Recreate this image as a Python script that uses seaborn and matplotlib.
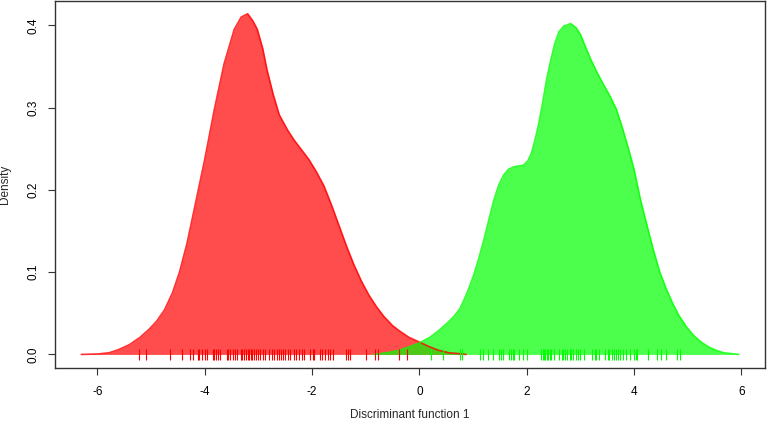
import pandas as pd
import matplotlib.pyplot as plt
import seaborn as sns

# Densidad estimada de cada grupo
red_x = [-6.30, -6.0, -5.78, -5.6, -5.4, -5.2, -5.03, -4.9, -4.75, -4.6, -4.47, -4.33,
         -4.2, -4.0, -3.82, -3.64, -3.45, -3.32, -3.2, -3.1, -3.02, -2.92, -2.84, -2.72,
         -2.61, -2.45, -2.34, -2.2, -2.06, -1.92, -1.78, -1.64, -1.5, -1.36, -1.22, -1.08,
         -0.94, -0.8, -0.66, -0.5, -0.38, -0.2, 0.0, 0.2, 0.36, 0.55, 0.73, 0.87]
red_y = [0.000, 0.0005, 0.002, 0.006, 0.012, 0.021, 0.031, 0.040, 0.054, 0.075, 0.100, 0.135,
         0.175, 0.237, 0.298, 0.353, 0.395, 0.410, 0.414, 0.405, 0.395, 0.372, 0.346, 0.315,
         0.291, 0.272, 0.261, 0.249, 0.237, 0.222, 0.205, 0.182, 0.157, 0.132, 0.109, 0.089,
         0.072, 0.058, 0.046, 0.035, 0.029, 0.021, 0.015, 0.009, 0.005, 0.002, 0.001, 0.000]

green_x = [-0.85, -0.6, -0.38, -0.2, 0.0, 0.2, 0.36, 0.5, 0.64, 0.75, 0.83, 0.92, 1.01, 1.1,
           1.2, 1.3, 1.39, 1.48, 1.57, 1.66, 1.76, 1.85, 1.94, 2.02, 2.09, 2.16, 2.22, 2.30,
           2.37, 2.45, 2.52, 2.60, 2.69, 2.82, 2.92, 3.0, 3.1, 3.19, 3.3, 3.43, 3.55, 3.67,
           3.78, 3.9, 4.0, 4.12, 4.24, 4.36, 4.48, 4.61, 4.72, 4.83, 4.97, 5.11, 5.25, 5.39,
           5.53, 5.67, 5.81, 5.95]
green_y = [0.000, 0.002, 0.005, 0.009, 0.014, 0.021, 0.029, 0.037, 0.046, 0.055, 0.066, 0.080,
           0.096, 0.115, 0.139, 0.165, 0.188, 0.206, 0.218, 0.225, 0.228, 0.229, 0.230, 0.235,
           0.245, 0.262, 0.279, 0.307, 0.334, 0.358, 0.377, 0.392, 0.399, 0.402, 0.397, 0.389,
           0.373, 0.359, 0.344, 0.328, 0.314, 0.298, 0.276, 0.249, 0.225, 0.188, 0.157, 0.127,
           0.100, 0.078, 0.062, 0.048, 0.034, 0.023, 0.015, 0.009, 0.005, 0.002, 0.001, 0.000]

# Observaciones individuales (rug)
red_rug = [-5.23, -5.09, -4.64, -4.43, -4.28, -4.22, -4.13, -4.10, -4.06, -4.00, -3.95, -3.85,
           -3.82, -3.79, -3.75, -3.71, -3.59, -3.56, -3.52, -3.47, -3.43, -3.40, -3.33, -3.30,
           -3.27, -3.24, -3.20, -3.17, -3.14, -3.11, -3.08, -3.04, -3.00, -2.97, -2.92, -2.87,
           -2.81, -2.75, -2.70, -2.66, -2.61, -2.58, -2.55, -2.50, -2.44, -2.41, -2.33, -2.29,
           -2.24, -2.18, -2.15, -2.04, -1.99, -1.96, -1.86, -1.81, -1.76, -1.70, -1.67, -1.61,
           -1.36, -1.33, -1.29, -1.00, -0.82, -0.77, -0.38, -0.23]
green_rug = [0.22, 0.44, 0.75, 0.79, 1.13, 1.19, 1.27, 1.37, 1.49, 1.52, 1.55, 1.67, 1.70,
             1.74, 1.77, 1.86, 1.93, 2.01, 2.27, 2.30, 2.33, 2.34, 2.37, 2.40, 2.43, 2.46,
             2.51, 2.61, 2.65, 2.68, 2.71, 2.75, 2.80, 2.83, 2.86, 2.91, 2.96, 3.00, 3.06,
             3.21, 3.27, 3.30, 3.34, 3.46, 3.51, 3.54, 3.58, 3.62, 3.66, 3.70, 3.74, 3.80,
             3.85, 3.92, 4.00, 4.03, 4.06, 4.26, 4.42, 4.51, 4.60, 4.80, 4.86]

x_ticks = [-6, -4, -2, 0, 2, 4, 6]
y_ticks = [0.0, 0.1, 0.2, 0.3, 0.4]

sns.set_style("white")
plt.rcParams['font.family'] = ['Liberation Sans', 'DejaVu Sans']

fig = plt.figure(figsize=(7.67, 4.23), dpi=100)
ax = fig.add_axes([55 / 767, 1 - 368 / 423, 710 / 767, 367 / 423])

red = pd.DataFrame({'x': red_x, 'y': red_y})
green = pd.DataFrame({'x': green_x, 'y': green_y})

ax.fill_between(red['x'], red['y'], color='#FF0000', alpha=0.7, lw=0)
sns.lineplot(data=red, x='x', y='y', color='#FF0000', lw=1.2, ax=ax, alpha=0.8)
ax.fill_between(green['x'], green['y'], color='#00FF00', alpha=0.7, lw=0)
sns.lineplot(data=green, x='x', y='y', color='#00FF00', lw=1.2, ax=ax, alpha=0.8)

# Rug
ax.vlines(red_rug, -0.007, 0.006, color='#FF0000', lw=0.8)
ax.vlines(green_rug, -0.007, 0.006, color='#00FF00', lw=0.8)

# Límites estilo R (4% extra)
ax.set_xlim(-6.79, 6.44)
ax.set_ylim(-0.0165, 0.4295)

ax.set_xticks(x_ticks)
ax.set_xticklabels([str(t) for t in x_ticks])
ax.set_yticks(y_ticks)
ax.set_yticklabels([f'{t:.1f}' for t in y_ticks], rotation=90, va='center')
ax.tick_params(axis='both', direction='out', length=5, width=0.8, color='#333333',
               labelsize=8.5, labelcolor='black', left=True, bottom=True)
ax.tick_params(axis='x', pad=8)
ax.tick_params(axis='y', pad=6.5)

for s in ax.spines.values():
    s.set_color('#333333')
    s.set_linewidth(1.0)

ax.set_xlabel('Discriminant function 1', fontsize=8.5, va='center')
ax.set_ylabel('Density', fontsize=8.5, va='center')
ax.xaxis.set_label_coords(0.5, -47 / 367)
ax.yaxis.set_label_coords(-50 / 710, 0.5)

plt.savefig('out.png', dpi=100)
